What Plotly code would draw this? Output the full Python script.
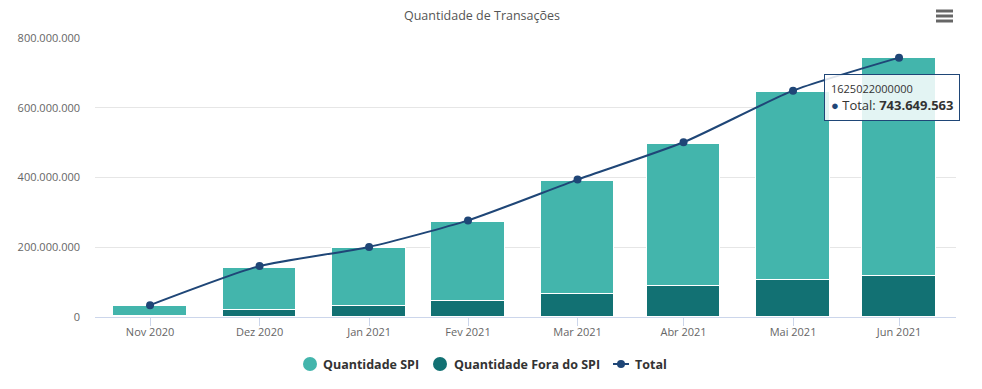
import plotly.graph_objects as go

dates = ["2020-11-30", "2020-12-31", "2021-01-31", "2021-02-28",
         "2021-03-31", "2021-04-30", "2021-05-31", "2021-06-30"]
month_labels = ["Nov 2020", "Dez 2020", "Jan 2021", "Fev 2021",
                "Mar 2021", "Abr 2021", "Mai 2021", "Jun 2021"]
qtd_fora_spi = [3_000_000, 20_000_000, 31_000_000, 46_000_000,
                65_000_000, 88_000_000, 105_000_000, 117_000_000]
qtd_spi = [29_000_000, 121_000_000, 167_000_000, 227_000_000,
           326_000_000, 409_000_000, 541_000_000, 625_000_000]
total = [34_000_000, 146_000_000, 201_000_000, 277_000_000,
         394_000_000, 501_000_000, 649_000_000, 743_649_563]
y_ticks = [0, 200_000_000, 400_000_000, 600_000_000, 800_000_000]
legend_names = ["Quantidade SPI", "Quantidade Fora do SPI", "Total"]

C_SPI = "#43b5ac"
C_FORA = "#127173"
C_TOTAL = "#1f4677"
FONT = "Open Sans"
DAY_MS = 86_400_000
bar_w = 20.9 * DAY_MS

# page body has an 8px default margin; figure is sized to fit the window
OFF = 8
W, H = 982 - OFF, 389 - OFF
ML, MR, MT = 95 - OFF, 26, 38 - OFF
MB = H - (317 - OFF)
PW, PH = W - ML - MR, H - MT - MB


def py(y_ref):
    """reference pixel y -> paper y"""
    return (H - MB - (y_ref - OFF)) / PH


def px(x_ref):
    return ((x_ref - OFF) - ML) / PW


fig = go.Figure()
fig.add_trace(go.Bar(x=dates, y=qtd_fora_spi, name="Quantidade Fora do SPI",
                     marker=dict(color=C_FORA, line=dict(color="white", width=1)),
                     width=bar_w, showlegend=False))
fig.add_trace(go.Bar(x=dates, y=qtd_spi, name="Quantidade SPI",
                     marker=dict(color=C_SPI, line=dict(color="white", width=1)),
                     width=bar_w, showlegend=False))
fig.add_trace(go.Scatter(x=dates, y=total, name="Total", mode="lines+markers",
                         line=dict(color=C_TOTAL, width=2, shape="spline", smoothing=0.6),
                         marker=dict(color=C_TOTAL, size=8), showlegend=False))

fig.update_layout(
    width=W, height=H,
    barmode="stack", bargap=0,
    separators=",.",
    plot_bgcolor="white", paper_bgcolor="white",
    margin=dict(l=ML, r=MR, t=MT, b=MB, autoexpand=False),
    font=dict(family=FONT, size=11, color="#666666"),
    title=dict(text="Quantidade de Transações", x=(482 - OFF) / W, xanchor="center",
               y=1 - (16 - OFF) / H, yanchor="middle",
               font=dict(family=FONT, size=12.5, color="#555555")),
    xaxis=dict(type="date", range=["2020-11-14 10:00", "2021-07-16 03:00"],
               tickmode="array", tickvals=dates, ticktext=month_labels,
               showgrid=False, showline=True, linecolor="#ccd6eb", linewidth=1,
               ticks="outside", ticklen=8, tickcolor="#ccd6eb", automargin=False,
               ticklabelstandoff=-3,
               tickfont=dict(size=11, color="#666666"), fixedrange=True),
    yaxis=dict(range=[0, 800_000_000], tickmode="array", tickvals=y_ticks,
               tickformat=",d", showgrid=True, gridcolor="#e6e6e6", gridwidth=1,
               zeroline=False, showline=False, ticklabelstandoff=14, automargin=False,
               tickfont=dict(size=11, color="#666666"), fixedrange=True),
    showlegend=False,
)

# custom legend (circles for bar series, line+dot for the total)
LY = 364
leg_color = [C_SPI, C_FORA, C_TOTAL]
sym_x = [310, 440, 621]
text_x = [322, 453, 634]
for i, name in enumerate(legend_names):
    if i < 2:
        r = 7
        fig.add_shape(type="circle", xref="paper", yref="paper",
                      x0=px(sym_x[i] - r), x1=px(sym_x[i] + r),
                      y0=py(LY + r), y1=py(LY - r),
                      fillcolor=leg_color[i], line=dict(width=0))
    else:
        fig.add_shape(type="line", xref="paper", yref="paper",
                      x0=px(613), x1=px(629), y0=py(LY), y1=py(LY),
                      line=dict(color=C_TOTAL, width=2))
        r = 4
        fig.add_shape(type="circle", xref="paper", yref="paper",
                      x0=px(sym_x[i] - r), x1=px(sym_x[i] + r),
                      y0=py(LY + r), y1=py(LY - r),
                      fillcolor=C_TOTAL, line=dict(width=0))
    fig.add_annotation(x=px(text_x[i]), y=py(LY), xref="paper", yref="paper",
                       text=f"<b>{name}</b>", showarrow=False,
                       xanchor="left", yanchor="middle", xshift=-1,
                       font=dict(family=FONT, size=12.5, color="#333333"))

# tooltip-like annotation on the last point
fig.add_annotation(x=dates[-1], y=total[-1], xref="x", yref="y",
                   text=("<span style='font-size:11px'>1625022000000</span><br>"
                         f"<span style='color:{C_TOTAL}'>●</span> Total: "
                         "<b>743.649.563</b>"),
                   showarrow=False, xanchor="center", yanchor="top",
                   xshift=-7, yshift=-16, align="left",
                   bgcolor="rgba(255,255,255,0.85)", bordercolor=C_TOTAL,
                   borderwidth=1, borderpad=6,
                   font=dict(family=FONT, size=13, color="#333333"))

# menu icon (hamburger)
for yy in [11, 16, 21]:
    fig.add_shape(type="line", xref="paper", yref="paper",
                  x0=px(936), x1=px(953), y0=py(yy), y1=py(yy),
                  line=dict(color="#666666", width=3))

fig.write_html("out.html", config={"displayModeBar": False})
